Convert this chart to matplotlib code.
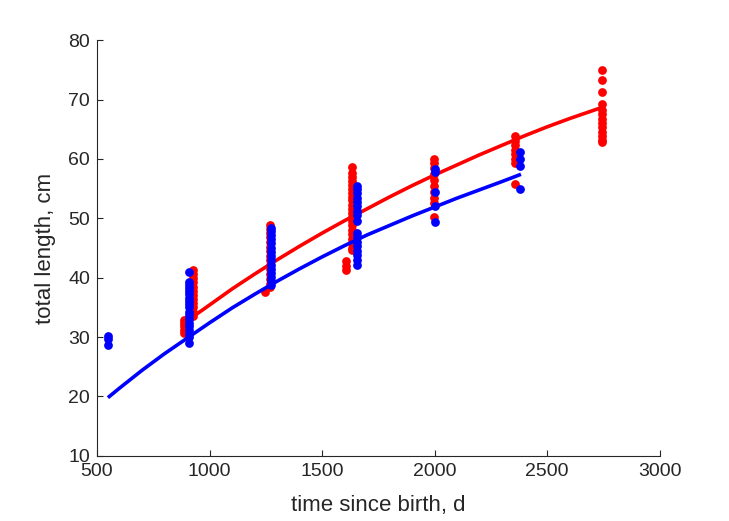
import matplotlib
matplotlib.use("Agg")
import matplotlib.pyplot as plt

# ---- data ----
# fitted curves
red_curve_t = [925, 1000, 1100, 1200, 1300, 1400, 1500, 1600, 1700, 1800, 1900, 2000,
               2100, 2200, 2300, 2400, 2500, 2600, 2700, 2745]
red_curve_L = [33.4, 35.4, 38.1, 40.6, 43.0, 45.3, 47.5, 49.6, 51.6, 53.6, 55.5, 57.3,
               59.0, 60.7, 62.3, 63.9, 65.4, 66.8, 68.1, 68.7]
blue_curve_t = [555, 600, 700, 800, 900, 1000, 1100, 1200, 1300, 1400, 1500, 1600,
                1700, 1800, 1900, 2000, 2100, 2200, 2300, 2376]
blue_curve_L = [20.0, 21.4, 24.4, 27.2, 29.8, 32.4, 34.9, 37.2, 39.4, 41.5, 43.5, 45.4,
                47.2, 48.8, 50.4, 51.9, 53.4, 54.8, 56.2, 57.3]

# observations (female = red, male = blue)
red_t = ([888] * 5 + [928] * 12 + [1270] * 15 + [1245] + [1635] * 21 + [1605] * 3
         + [1995] * 10 + [2358] * 8 + [2745] * 13)
red_L = ([32.8, 32.3, 31.8, 31.2, 30.7]
         + [41.3, 40.6, 39.9, 39.2, 38.5, 37.8, 37.1, 36.4, 35.7, 35.0, 34.3, 33.6]
         + [48.9, 48.2, 47.5, 46.8, 46.0, 45.2, 44.5, 43.7, 43.0, 42.2, 41.4, 40.6, 39.8, 39.0, 38.4]
         + [37.6]
         + [58.7, 57.6, 57.0, 56.3, 55.6, 55.0, 54.3, 53.6, 53.0, 52.3, 51.6, 50.9, 50.2,
            49.5, 48.8, 48.0, 47.3, 46.5, 45.8, 45.0, 44.6]
         + [42.8, 42.0, 41.3]
         + [60.0, 59.3, 58.5, 57.5, 56.5, 55.5, 54.5, 53.5, 52.5, 50.2]
         + [63.8, 63.0, 62.3, 61.5, 60.8, 60.0, 59.3, 55.8]
         + [75.0, 73.3, 71.3, 69.3, 68.3, 67.5, 66.8, 66.0, 65.3, 64.5, 63.8, 63.2, 62.8])

blue_t = ([550] * 3 + [911] * 19 + [1275] * 15 + [1657] * 17 + [2003] * 5 + [2381] * 4)
blue_L = ([30.2, 29.7, 28.6]
          + [41.0, 39.2, 38.8, 38.3, 37.8, 37.2, 36.6, 36.0, 35.5, 35.0, 34.3, 33.7,
             33.0, 32.4, 31.8, 31.2, 30.6, 30.0, 29.0]
          + [48.4, 47.8, 47.2, 46.5, 45.8, 45.0, 44.3, 43.6, 42.9, 42.2, 41.5, 40.8, 40.1, 39.4, 38.7]
          + [55.5, 55.0, 54.3, 53.5, 52.8, 52.0, 51.3, 50.5, 49.5,
             47.5, 46.8, 46.0, 45.3, 44.5, 43.8, 43.0, 42.2]
          + [58.3, 57.8, 54.5, 52.0, 49.3]
          + [61.2, 60.0, 58.8, 55.0])

x_ticks = [500, 1000, 1500, 2000, 2500, 3000]
y_ticks = [10, 20, 30, 40, 50, 60, 70, 80]

plt.rcParams['font.family'] = ['Liberation Sans', 'DejaVu Sans']

fig = plt.figure(figsize=(7.29, 5.21), dpi=100)
ax = fig.add_axes([0.133, 0.125, 0.772, 0.798])

ms = 6.3
ax.plot(red_t, red_L, 'o', color=(1, 0, 0), markersize=ms, markeredgewidth=0, zorder=2)
ax.plot(red_curve_t, red_curve_L, '-', color=(1, 0, 0), linewidth=2.6, zorder=3,
        solid_joinstyle='round')
ax.plot(blue_t, blue_L, 'o', color=(0, 0, 1), markersize=ms, markeredgewidth=0, zorder=4)
ax.plot(blue_curve_t, blue_curve_L, '-', color=(0, 0, 1), linewidth=2.6, zorder=5,
        solid_joinstyle='round')

ax.set_xlim(500, 3000)
ax.set_ylim(10, 80)
ax.set_xticks(x_ticks)
ax.set_yticks(y_ticks)

axc = (0.15, 0.15, 0.15)
for s in ['top', 'right']:
    ax.spines[s].set_visible(False)
for s in ['left', 'bottom']:
    ax.spines[s].set_color(axc)
    ax.spines[s].set_linewidth(0.8)
ax.tick_params(direction='in', length=4.5, width=0.8, colors=axc, labelsize=14, pad=5)
ax.set_xlabel('time since birth, d', fontsize=16, color=axc, labelpad=11)
ax.set_ylabel('total length, cm', fontsize=16, color=axc, labelpad=9)

fig.savefig('out.png', dpi=100)
